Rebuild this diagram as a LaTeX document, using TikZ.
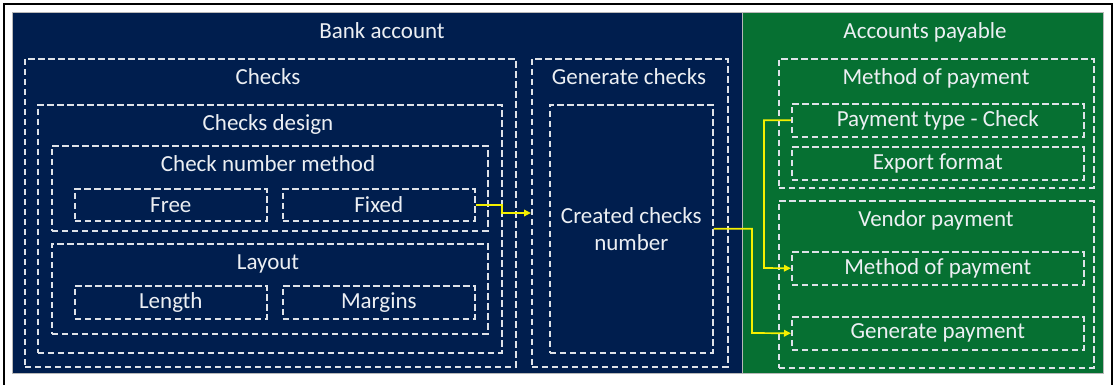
\documentclass[tikz,border=0pt]{standalone}
\usepackage{fontspec}
\setmainfont{Carlito}
\usetikzlibrary{arrows.meta}
\definecolor{navy}{RGB}{0,30,78}
\definecolor{apgreen}{RGB}{6,112,50}
\definecolor{dashc}{RGB}{222,226,232}
\definecolor{txtc}{RGB}{236,239,243}
\definecolor{yel}{RGB}{245,240,0}
\begin{document}
\begin{tikzpicture}[x=1pt,y=-1pt,
  dbox/.style={draw=dashc, line width=1.6pt, dash pattern=on 6.5pt off 3.5pt,
    rectangle, inner sep=0pt, anchor=north west, text=txtc, align=center,
    font=\fontsize{23}{27}\selectfont},
  ttl/.style={text=txtc, inner sep=0pt, font=\fontsize{23}{27}\selectfont},
  yarrow/.style={draw=yel, line width=1.7pt, -{Triangle[length=7pt,width=6.5pt]}}]
\useasboundingbox (0,0) rectangle (1116,385);
\fill[white] (0,0) rectangle (1116,385);
% panels
\fill[navy, draw=gray!55, line width=0.8pt] (12,12) rectangle (742,373);
\fill[apgreen, draw=gray!55, line width=0.8pt] (742,12) rectangle (1103,373);
\draw[black, line width=2.6pt] (4,385) -- (4,4) -- (1112,4) -- (1112,385);
% titles
\node[ttl] (tbank) at (382,31) {Bank account};
\node[ttl] (tap) at (925,32) {Accounts payable};
% Checks
\node[dbox, minimum width=491pt, minimum height=308pt] (checks) at (24,58) {};
\node[ttl] (tchecks) at (268,77) {Checks};
\node[dbox, minimum width=464pt, minimum height=248pt] (design) at (37,104) {};
\node[ttl] (tdesign) at (268,124) {Checks design};
\node[dbox, minimum width=436pt, minimum height=85pt] (cnm) at (51,145) {};
\node[ttl] (tcnm) at (268,164) {Check number method};
\node[dbox, minimum width=192pt, minimum height=32pt] (free) at (74,188) {Free};
\node[dbox, minimum width=192pt, minimum height=32pt] (fixed) at (282,188) {Fixed};
\node[dbox, minimum width=436pt, minimum height=90pt] (layout) at (51,243) {};
\node[ttl] (tlayout) at (268,264) {Layout};
\node[dbox, minimum width=192pt, minimum height=33pt] (length) at (74,285) {Length};
\node[dbox, minimum width=192pt, minimum height=33pt] (margins) at (282,285) {Margins};
% Generate checks
\node[dbox, minimum width=196pt, minimum height=308pt] (gen) at (531,58) {};
\node[ttl] (tgen) at (629,77) {Generate checks};
\node[dbox, minimum width=163pt, minimum height=248pt] (created) at (549,104) {Created checks\\number};
% Accounts payable
\node[dbox, minimum width=315pt, minimum height=129pt] (mop) at (778,58) {};
\node[ttl] (tmop) at (936,78) {Method of payment};
\node[dbox, minimum width=292pt, minimum height=33pt] (ptype) at (791,103) {Payment type - Check};
\node[dbox, minimum width=292pt, minimum height=33pt] (export) at (791,146) {Export format};
\node[dbox, minimum width=315pt, minimum height=167pt] (vendor) at (778,200) {};
\node[ttl] (tvendor) at (936,220) {Vendor payment};
\node[dbox, minimum width=292pt, minimum height=33pt] (mopin) at (791,251) {Method of payment};
\node[dbox, minimum width=292pt, minimum height=33pt] (genpay) at (791,316) {Generate payment};
% connectors
\coordinate (a1) at (502,213);
\draw[yarrow] (fixed.east) -| (a1) -- (a1 -| gen.west);
\coordinate (a2) at (752,333);
\draw[yarrow] (created.east) -| (a2) -- (genpay.west);
\coordinate (a3) at (764,268);
\draw[yarrow] (ptype.west) -| (a3) -- (mopin.west);
\end{tikzpicture}
\end{document}
